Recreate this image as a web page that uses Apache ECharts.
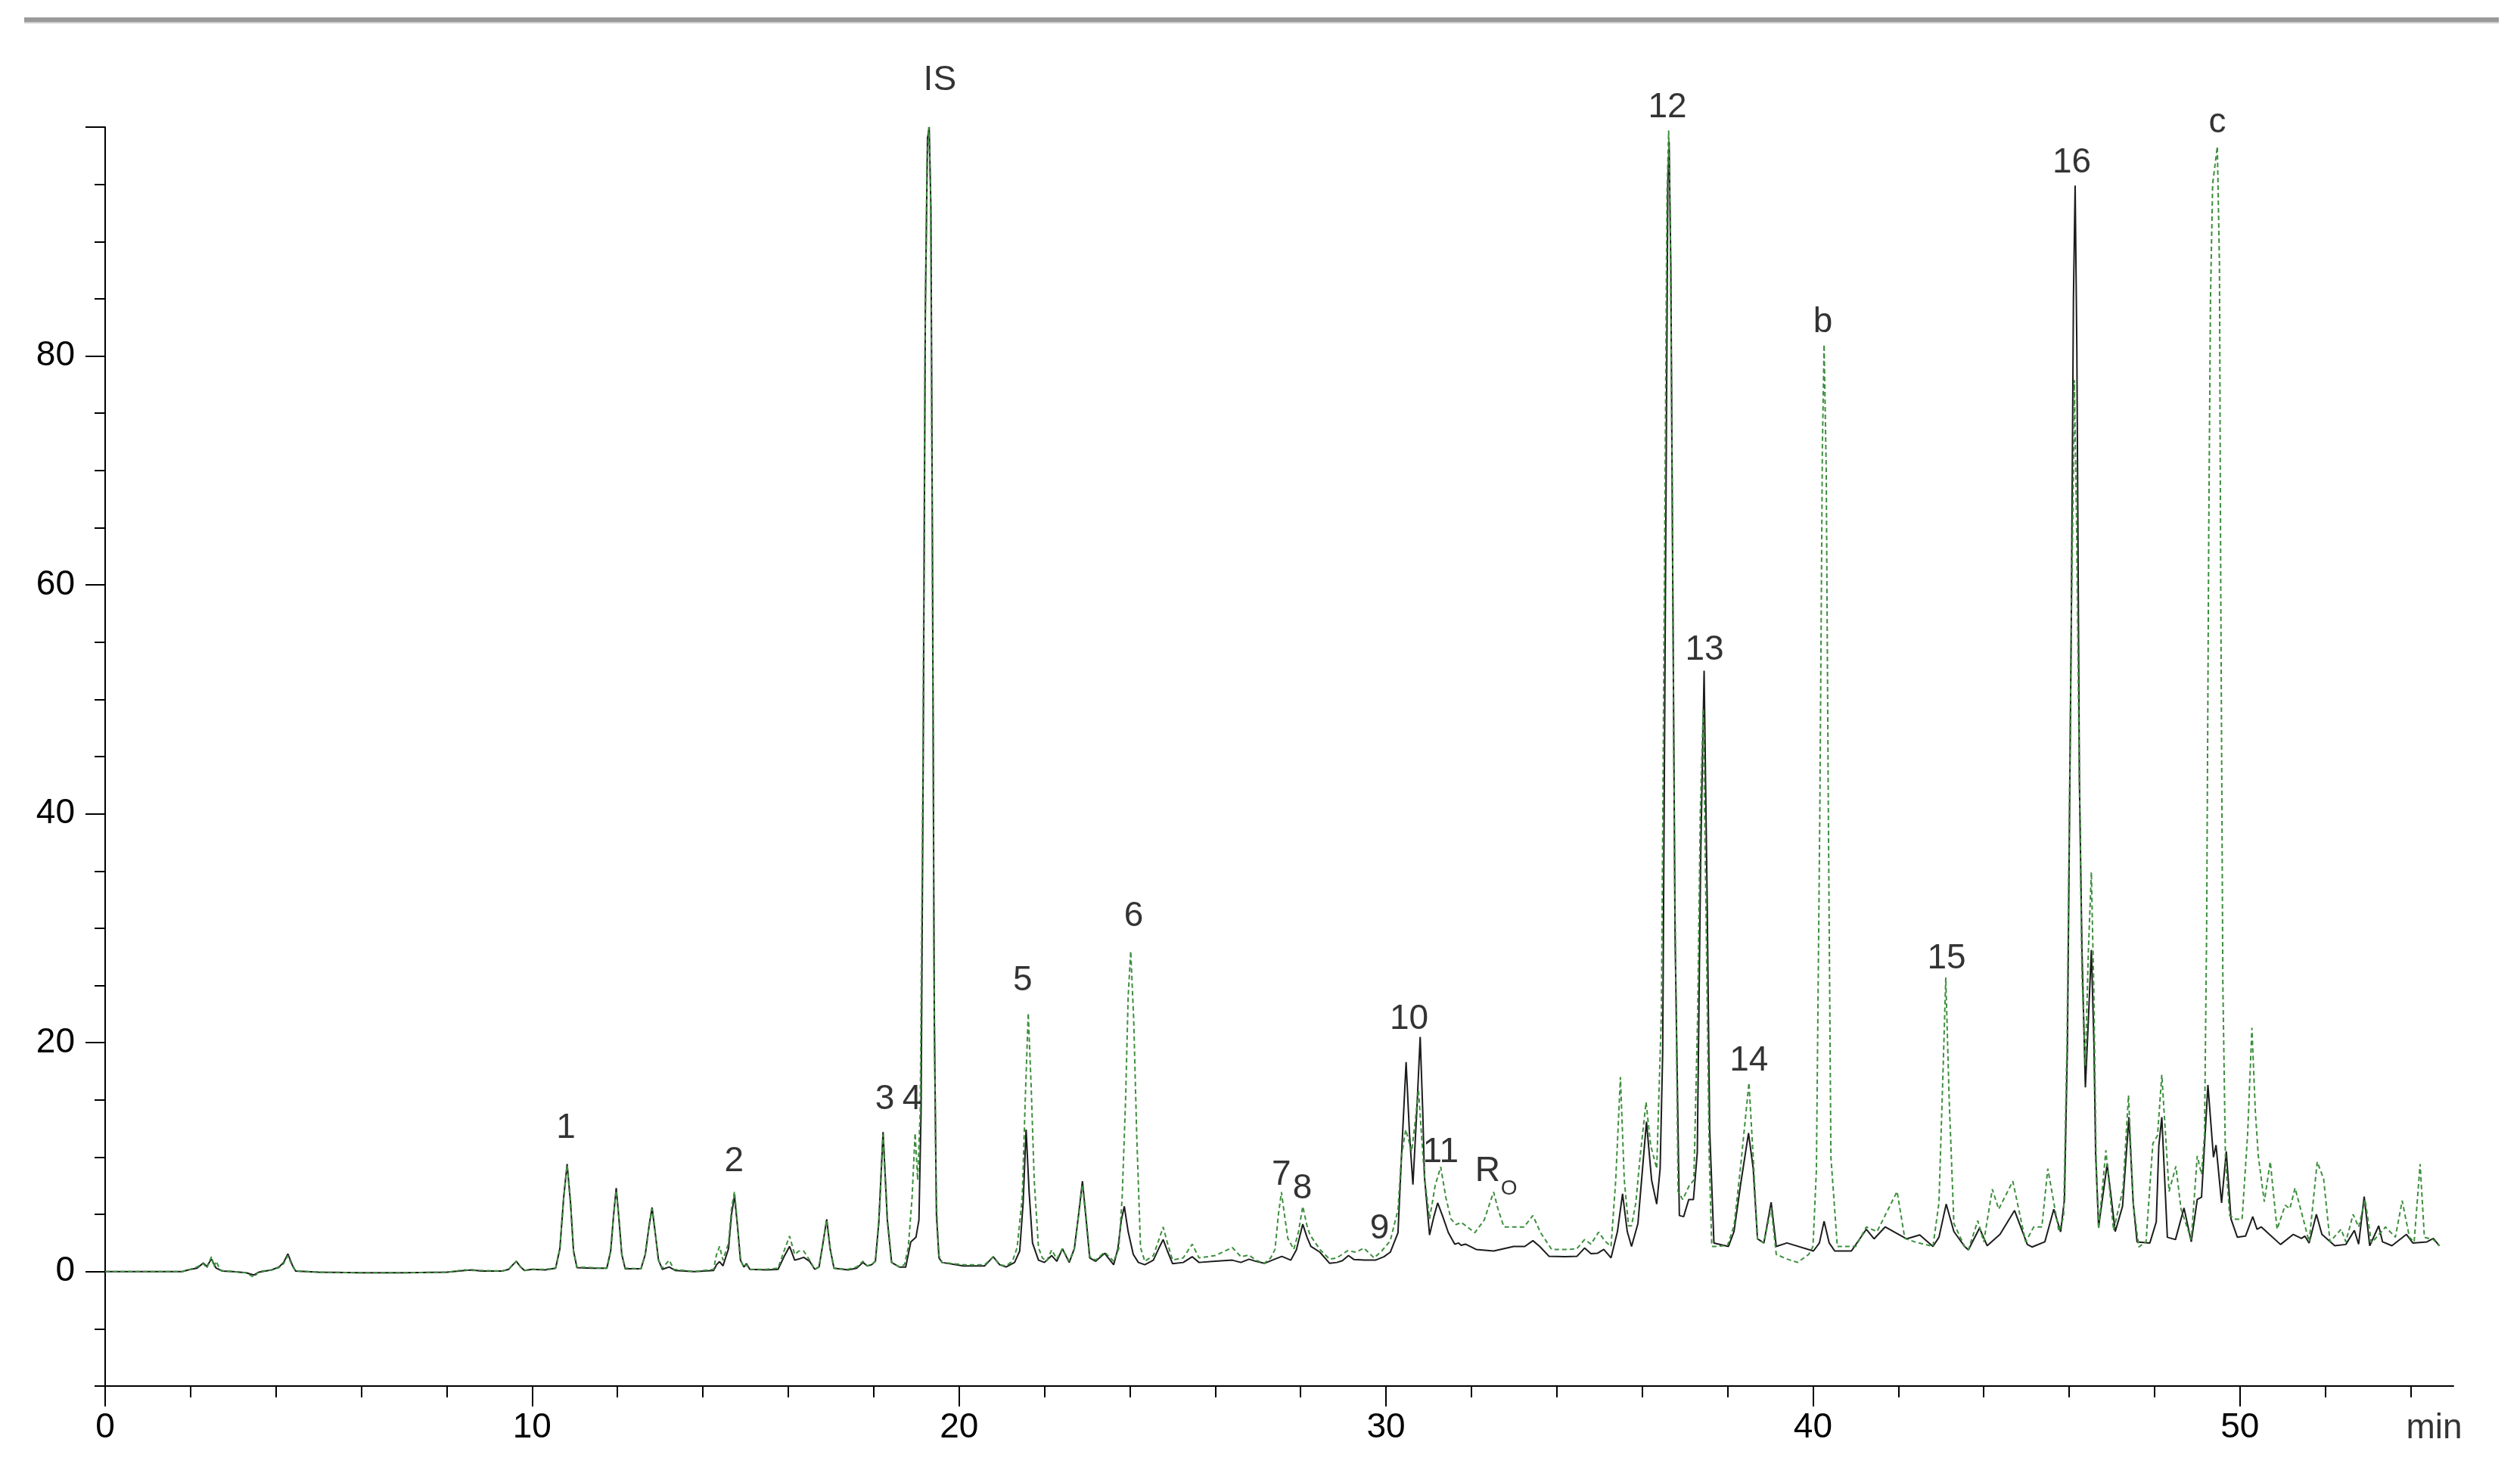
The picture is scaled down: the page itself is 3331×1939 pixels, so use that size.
<!DOCTYPE html>
<html>
<head>
<meta charset="utf-8">
<script src="https://cdn.jsdelivr.net/npm/echarts@6/dist/echarts.min.js"></script>
<style>
html,body{margin:0;padding:0;background:#fff;}
#chart{width:3331px;height:1939px;}
</style>
</head>
<body>
<div id="chart"></div>
<script>
// ---- data (retention time in min, signal) ----
const sampleTrace = [
[0,0],[1.8,0],[2.0,0.2],[2.15,0.3],[2.3,0.75],[2.38,0.45],[2.49,1.1],[2.6,0.3],[2.75,0.05],[3.0,0],[3.3,-0.1],[3.48,-0.3],[3.6,-0.05],[3.9,0.15],[4.07,0.4],[4.18,0.8],[4.28,1.55],[4.38,0.6],[4.46,0.05],[5.0,-0.05],[6.0,-0.1],[7.0,-0.1],[8.0,-0.05],[8.42,0.1],[8.6,0.15],[8.8,0.05],[9.3,0.05],[9.45,0.2],[9.55,0.6],[9.63,0.9],[9.72,0.45],[9.82,0.1],[10.0,0.2],[10.3,0.15],[10.55,0.3],[10.65,2.0],[10.74,6.5],[10.82,9.4],[10.9,6.0],[10.97,1.8],[11.05,0.35],[11.4,0.3],[11.75,0.3],[11.84,1.8],[11.91,5.0],[11.97,7.3],[12.03,4.8],[12.1,1.5],[12.18,0.25],[12.55,0.25],[12.65,1.5],[12.74,4.0],[12.81,5.6],[12.88,3.5],[12.96,1.0],[13.05,0.2],[13.21,0.4],[13.35,0.1],[13.8,0.0],[14.25,0.1],[14.32,0.6],[14.39,0.87],[14.47,0.5],[14.6,2.0],[14.67,5.0],[14.74,6.6],[14.81,4.0],[14.88,1.0],[14.96,0.4],[15.02,0.7],[15.1,0.2],[15.5,0.15],[15.76,0.2],[15.9,1.3],[16.03,2.2],[16.15,1.0],[16.25,1.1],[16.36,1.25],[16.5,0.9],[16.62,0.2],[16.72,0.4],[16.8,2.2],[16.9,4.57],[16.98,2.0],[17.07,0.3],[17.4,0.15],[17.6,0.3],[17.75,0.8],[17.85,0.5],[17.95,0.6],[18.04,0.9],[18.12,4.3],[18.22,12.2],[18.32,4.5],[18.42,0.8],[18.6,0.4],[18.75,0.4],[18.87,2.6],[18.99,3.0],[19.06,4.5],[19.11,14],[19.16,45],[19.21,84],[19.26,99],[19.3,100],[19.34,93],[19.38,60],[19.42,22],[19.47,5],[19.53,1.2],[19.6,0.8],[20.1,0.5],[20.6,0.5],[20.8,1.3],[20.95,0.6],[21.1,0.4],[21.3,0.8],[21.42,1.8],[21.5,6.0],[21.57,12.4],[21.64,7.0],[21.72,2.5],[21.86,1.0],[22.0,0.8],[22.17,1.4],[22.29,0.9],[22.42,2.0],[22.58,0.8],[22.7,2.0],[22.8,5.0],[22.89,7.9],[22.97,4.8],[23.06,1.2],[23.2,0.9],[23.41,1.6],[23.62,0.6],[23.72,2.0],[23.8,4.5],[23.87,5.7],[23.96,3.5],[24.08,1.5],[24.2,0.8],[24.35,0.6],[24.55,1.0],[24.7,2.2],[24.78,2.8],[24.88,1.8],[25.0,0.7],[25.25,0.8],[25.46,1.3],[25.62,0.8],[26.0,0.9],[26.4,1.0],[26.6,0.8],[26.79,1.08],[26.95,0.9],[27.15,0.72],[27.4,1.1],[27.56,1.33],[27.77,1.0],[27.9,1.9],[28.05,4.14],[28.15,3.0],[28.24,2.2],[28.45,1.7],[28.68,0.72],[28.85,0.8],[28.98,0.96],[29.12,1.4],[29.25,1.05],[29.5,1.0],[29.75,1.0],[29.95,1.3],[30.1,1.7],[30.28,3.4],[30.37,10.7],[30.47,18.3],[30.55,12.0],[30.63,7.6],[30.72,14],[30.8,20.5],[30.86,14],[30.9,8.3],[31.02,3.2],[31.12,4.8],[31.21,6.0],[31.33,4.8],[31.46,3.4],[31.61,2.4],[31.7,2.5],[31.76,2.3],[31.86,2.4],[32.11,1.94],[32.52,1.8],[32.99,2.2],[33.25,2.2],[33.44,2.7],[33.6,2.2],[33.82,1.33],[34.2,1.3],[34.47,1.33],[34.65,2.06],[34.8,1.57],[34.95,1.6],[35.1,1.94],[35.27,1.2],[35.42,3.5],[35.54,6.8],[35.65,3.5],[35.75,2.2],[35.9,4.2],[36.1,13.1],[36.22,8],[36.34,5.9],[36.42,9.0],[36.48,19.2],[36.54,56.7],[36.6,95],[36.63,98.7],[36.67,88],[36.71,63.6],[36.77,29.4],[36.87,4.9],[36.97,4.8],[37.09,6.3],[37.2,6.3],[37.29,10.4],[37.37,36.3],[37.45,52.5],[37.52,32.8],[37.58,12.4],[37.68,2.5],[38.02,2.2],[38.15,3.5],[38.3,7.5],[38.49,12.1],[38.6,9.0],[38.7,2.86],[38.85,2.5],[39.02,6.06],[39.14,2.2],[39.39,2.5],[40.01,1.8],[40.15,2.5],[40.26,4.4],[40.38,2.5],[40.51,1.8],[40.9,1.8],[41.25,3.7],[41.43,2.86],[41.69,3.9],[42.19,2.86],[42.5,3.2],[42.81,2.2],[42.95,3.0],[43.12,5.9],[43.3,3.5],[43.55,2.2],[43.64,1.9],[43.9,3.8],[44.08,2.26],[44.38,3.25],[44.72,5.34],[45.02,2.37],[45.13,2.15],[45.43,2.6],[45.64,5.45],[45.8,3.47],[45.89,6.3],[45.96,20],[46.05,56.7],[46.1,85],[46.14,94.9],[46.18,80.6],[46.24,43],[46.3,28],[46.38,16.1],[46.45,22],[46.52,28.1],[46.58,20],[46.62,10.3],[46.69,3.9],[46.89,9.4],[47.08,3.5],[47.25,5.7],[47.4,13.5],[47.5,6.0],[47.59,2.6],[47.89,2.5],[48.04,4.35],[48.1,11.0],[48.17,13.5],[48.3,3.0],[48.49,2.8],[48.69,5.56],[48.86,2.6],[49.0,6.3],[49.1,6.5],[49.25,16.3],[49.38,10.0],[49.44,11.05],[49.57,6.0],[49.68,10.5],[49.79,4.6],[49.94,3.0],[50.13,3.1],[50.3,4.8],[50.4,3.7],[50.5,3.9],[50.69,3.25],[50.95,2.37],[51.25,3.25],[51.44,2.9],[51.52,3.1],[51.62,2.5],[51.79,5.0],[51.92,3.25],[52.22,2.26],[52.48,2.37],[52.68,3.6],[52.78,2.4],[52.91,6.55],[53.04,2.26],[53.25,4.0],[53.34,2.6],[53.56,2.26],[53.9,3.25],[54.05,2.5],[54.38,2.6],[54.53,2.9],[54.67,2.26]
];
const spikedTrace = [
[0,0],[1.8,0],[2.0,0.2],[2.15,0.4],[2.3,0.7],[2.38,0.3],[2.49,1.3],[2.55,0.4],[2.6,0.9],[2.7,0.1],[3.0,0],[3.3,-0.1],[3.48,-0.5],[3.6,0],[3.9,0.15],[4.07,0.35],[4.18,0.7],[4.28,1.4],[4.38,0.5],[4.46,0.05],[5.0,-0.05],[6.0,-0.1],[7.0,-0.1],[8.0,-0.05],[8.42,0.15],[8.6,0.1],[8.8,0.1],[9.3,0.05],[9.45,0.2],[9.55,0.6],[9.63,0.9],[9.72,0.45],[9.82,0.1],[10.0,0.2],[10.3,0.2],[10.55,0.3],[10.65,2.0],[10.74,6.5],[10.82,9.3],[10.9,6.0],[10.97,1.8],[11.05,0.4],[11.4,0.35],[11.75,0.3],[11.84,1.8],[11.91,5.0],[11.97,7.1],[12.03,4.8],[12.1,1.5],[12.18,0.3],[12.55,0.25],[12.65,1.5],[12.74,4.0],[12.81,5.5],[12.88,3.5],[12.96,1.0],[13.05,0.3],[13.21,1.0],[13.32,0.2],[13.8,0.0],[14.25,0.2],[14.32,1.5],[14.39,2.2],[14.47,1.0],[14.6,2.5],[14.67,5.5],[14.74,7.0],[14.81,4.2],[14.88,1.0],[14.96,0.4],[15.02,0.6],[15.1,0.2],[15.5,0.2],[15.76,0.3],[15.9,1.8],[16.03,3.1],[16.15,1.5],[16.25,1.8],[16.36,1.8],[16.5,1.0],[16.62,0.2],[16.72,0.4],[16.8,2.2],[16.9,4.5],[16.98,2.0],[17.07,0.3],[17.4,0.2],[17.6,0.4],[17.75,0.9],[17.85,0.5],[17.95,0.6],[18.04,0.9],[18.12,4.3],[18.22,12.0],[18.32,4.5],[18.42,0.8],[18.6,0.4],[18.72,0.6],[18.81,2.1],[18.9,6.5],[18.97,12.1],[19.03,8.0],[19.09,14],[19.15,42],[19.2,80],[19.25,97],[19.29,100],[19.33,95],[19.37,66],[19.41,28],[19.46,7],[19.52,1.5],[19.6,0.8],[20.1,0.6],[20.6,0.6],[20.8,1.3],[20.95,0.6],[21.1,0.5],[21.25,0.9],[21.36,2.1],[21.48,6.5],[21.55,15],[21.62,22.6],[21.69,16],[21.76,8],[21.86,2.1],[21.95,1.2],[22.05,0.9],[22.17,1.9],[22.29,1.1],[22.42,2.0],[22.58,0.9],[22.7,2.0],[22.8,5.0],[22.89,7.6],[22.97,4.8],[23.06,1.3],[23.2,1.0],[23.41,1.7],[23.62,0.9],[23.74,2.0],[23.82,6.5],[23.9,15],[23.96,24],[24.02,28],[24.09,22],[24.16,12],[24.25,2.1],[24.35,0.9],[24.55,1.4],[24.7,3.0],[24.78,3.9],[24.88,2.5],[25.0,1.0],[25.25,1.2],[25.46,2.4],[25.62,1.2],[26.0,1.4],[26.4,2.1],[26.6,1.3],[26.79,1.45],[26.95,1.0],[27.15,0.72],[27.3,1.2],[27.4,1.94],[27.48,5.0],[27.55,6.95],[27.62,5.0],[27.7,2.9],[27.84,1.94],[27.95,3.5],[28.05,5.7],[28.15,4.0],[28.22,3.2],[28.45,1.94],[28.68,1.08],[28.85,1.2],[29.1,1.82],[29.3,1.7],[29.48,2.06],[29.72,1.2],[29.9,1.8],[30.1,2.7],[30.28,5.4],[30.36,10],[30.46,12.4],[30.53,11.5],[30.6,10.5],[30.68,13],[30.76,15.9],[30.83,12],[30.9,8.3],[31.02,4.6],[31.15,7.5],[31.28,9.15],[31.4,6.5],[31.52,4.6],[31.64,4.1],[31.76,4.3],[31.87,4.0],[32.08,3.4],[32.3,4.5],[32.45,6.2],[32.52,6.95],[32.62,5.5],[32.76,3.9],[33.0,3.9],[33.23,3.9],[33.44,4.9],[33.62,3.4],[33.88,1.94],[34.3,1.94],[34.47,2.0],[34.65,2.8],[34.8,2.4],[34.98,3.45],[35.12,2.7],[35.27,2.2],[35.38,8],[35.49,17.0],[35.58,8],[35.68,4.0],[35.75,4.0],[35.85,6],[35.95,10],[36.09,14.8],[36.2,11],[36.34,9.0],[36.45,22.6],[36.52,60],[36.58,94],[36.62,99.7],[36.66,90],[36.7,70],[36.76,35],[36.84,7.0],[36.95,6.3],[37.1,7.5],[37.21,8.0],[37.3,22.6],[37.36,40],[37.43,49.2],[37.5,30],[37.57,10],[37.63,2.2],[37.75,2.2],[38.0,2.3],[38.15,4.0],[38.3,9],[38.5,16.5],[38.6,10],[38.7,2.86],[38.85,2.5],[39.02,5.6],[39.14,1.5],[39.39,1.1],[39.64,0.8],[39.9,1.5],[40.0,2.2],[40.08,8.9],[40.16,40],[40.22,72],[40.26,81.0],[40.31,70],[40.36,40],[40.42,10],[40.57,2.2],[41.0,2.2],[41.25,3.9],[41.5,3.5],[41.97,7.0],[42.15,2.9],[42.38,2.6],[42.81,2.2],[42.95,6],[43.05,18],[43.11,25.7],[43.19,15],[43.3,4.2],[43.55,2.2],[43.64,1.9],[43.86,4.45],[44.0,2.6],[44.2,7.2],[44.35,5.45],[44.68,7.9],[44.98,2.6],[45.17,3.9],[45.36,3.9],[45.5,9.0],[45.76,3.5],[45.87,4.8],[45.95,20],[46.05,56.7],[46.1,70],[46.12,77.9],[46.17,66.3],[46.24,43],[46.3,26],[46.38,18],[46.45,28],[46.52,34.9],[46.58,24],[46.63,10],[46.69,3.7],[46.86,10.6],[47.04,3.6],[47.26,7.2],[47.39,15.4],[47.5,6],[47.63,2.15],[47.8,2.6],[47.96,11.2],[48.07,11.9],[48.17,17.2],[48.34,7.0],[48.5,9.2],[48.62,5.45],[48.86,2.8],[49.0,10.1],[49.1,8.5],[49.17,12],[49.22,30],[49.27,65],[49.31,85],[49.36,95],[49.47,98.3],[49.52,88],[49.55,60],[49.6,25],[49.66,10],[49.76,4.9],[49.9,4.57],[50.05,4.57],[50.18,12],[50.28,21.3],[50.36,14],[50.43,10.1],[50.57,6.1],[50.71,9.6],[50.87,3.7],[51.06,5.8],[51.17,5.5],[51.29,7.3],[51.44,5.2],[51.62,2.6],[51.81,9.6],[51.96,8.1],[52.11,2.6],[52.37,3.7],[52.48,2.6],[52.65,5.0],[52.78,3.9],[52.93,6.3],[53.08,2.5],[53.41,3.9],[53.64,3.0],[53.8,6.2],[53.97,3.0],[54.08,2.6],[54.22,9.4],[54.32,3.0],[54.53,2.8],[54.67,2.26]
];
// peak annotations: text, time, signal position of the label
const peakLabelText = ['1','2','3','4','IS','5','6','7','8','9','10','11','R','O','12','13','14','b','15','16','c'];
const peakLabelTime = [10.79,14.73,18.26,18.9,19.55,21.49,24.09,27.55,28.04,29.85,30.54,31.28,32.38,32.88,36.59,37.46,38.5,40.23,43.13,46.06,49.47];
const peakLabelSignal = [12.9,10.0,15.4,15.4,104.5,25.8,31.4,8.83,7.6,4.1,22.46,10.8,9.15,7.6,102.1,54.7,18.8,83.3,27.7,97.3,100.8];
// axis ticks
const xMajorTicks = [0,10,20,30,40,50];
const xMinorTicks = [2,4,6,8,12,14,16,18,22,24,26,28,32,34,36,38,42,44,46,48,52,54];
const yMajorTicks = [0,20,40,60,80,100];
const yLabelValues = [0,20,40,60,80];
const yMinorTicks = [-10,-5,5,10,15,25,30,35,45,50,55,65,70,75,85,90,95];
const xUnit = 'min';

const FONT = '"Liberation Sans", Arial, sans-serif';
const chart = echarts.init(document.getElementById('chart'), null, {renderer: 'canvas'});

const labelData = peakLabelText.map((t, i) => ({
  value: [peakLabelTime[i], peakLabelSignal[i], t],
  label: t === 'O' ? {fontSize: 28} : {}
}));
labelData.push({value: [54.55, -13.7, xUnit], label: {offset: [0, 0]}});

const common = {min: 0, max: 55, type: 'value', splitLine: {show: false}};
const option = {
  animation: false,
  backgroundColor: '#ffffff',
  grid: {left: 139, right: 88, top: 168, bottom: 107, containLabel: false},
  xAxis: [
    Object.assign({}, common, {
      position: 'bottom',
      axisLine: {show: true, onZero: false, lineStyle: {color: '#000', width: 2}},
      axisTick: {show: true, customValues: xMajorTicks, length: 27, lineStyle: {color: '#000', width: 2}},
      axisLabel: {show: true, customValues: xMajorTicks, margin: 32, fontSize: 46, color: '#000', fontFamily: FONT}
    }),
    Object.assign({}, common, {
      position: 'bottom',
      axisLine: {show: false, onZero: false},
      axisTick: {show: true, customValues: xMinorTicks, length: 15, lineStyle: {color: '#000', width: 2}},
      axisLabel: {show: false}
    })
  ],
  yAxis: [
    {
      type: 'value', min: -10, max: 100, position: 'left', splitLine: {show: false},
      axisLine: {show: true, onZero: false, lineStyle: {color: '#000', width: 2}},
      axisTick: {show: true, customValues: yMajorTicks, length: 26, lineStyle: {color: '#000', width: 2}},
      axisLabel: {show: true, customValues: yLabelValues, margin: 40, fontSize: 46, color: '#000', fontFamily: FONT}
    },
    {
      type: 'value', min: -10, max: 100, position: 'left', splitLine: {show: false},
      axisLine: {show: false, onZero: false},
      axisTick: {show: true, customValues: yMinorTicks, length: 14, lineStyle: {color: '#000', width: 2}},
      axisLabel: {show: false}
    }
  ],
  series: [
    {
      name: 'sample', type: 'line', xAxisIndex: 0, yAxisIndex: 0,
      data: sampleTrace, symbol: 'none', clip: true, z: 2,
      lineStyle: {color: '#1c1c1c', width: 2}
    },
    {
      name: 'spiked', type: 'line', xAxisIndex: 0, yAxisIndex: 0,
      data: spikedTrace, symbol: 'none', clip: true, z: 3,
      lineStyle: {color: '#3d8f3d', width: 2, type: [6, 4]}
    },
    {
      name: 'labels', type: 'scatter', xAxisIndex: 0, yAxisIndex: 0,
      data: labelData, symbolSize: 1, clip: false, z: 5,
      itemStyle: {color: 'rgba(0,0,0,0)'},
      label: {
        show: true, position: 'inside', fontSize: 46, color: '#000', fontFamily: FONT,
        offset: [0, 6],
        formatter: p => p.value[2]
      }
    }
  ],
  graphic: [
    {type: 'rect', shape: {x: 32, y: 23, width: 3271, height: 6}, style: {fill: '#9a9a9a'}},
    {type: 'rect', shape: {x: 32, y: 29, width: 3271, height: 2}, style: {fill: '#cfcfcf'}}
  ]
};
chart.setOption(option);
</script>
</body>
</html>
